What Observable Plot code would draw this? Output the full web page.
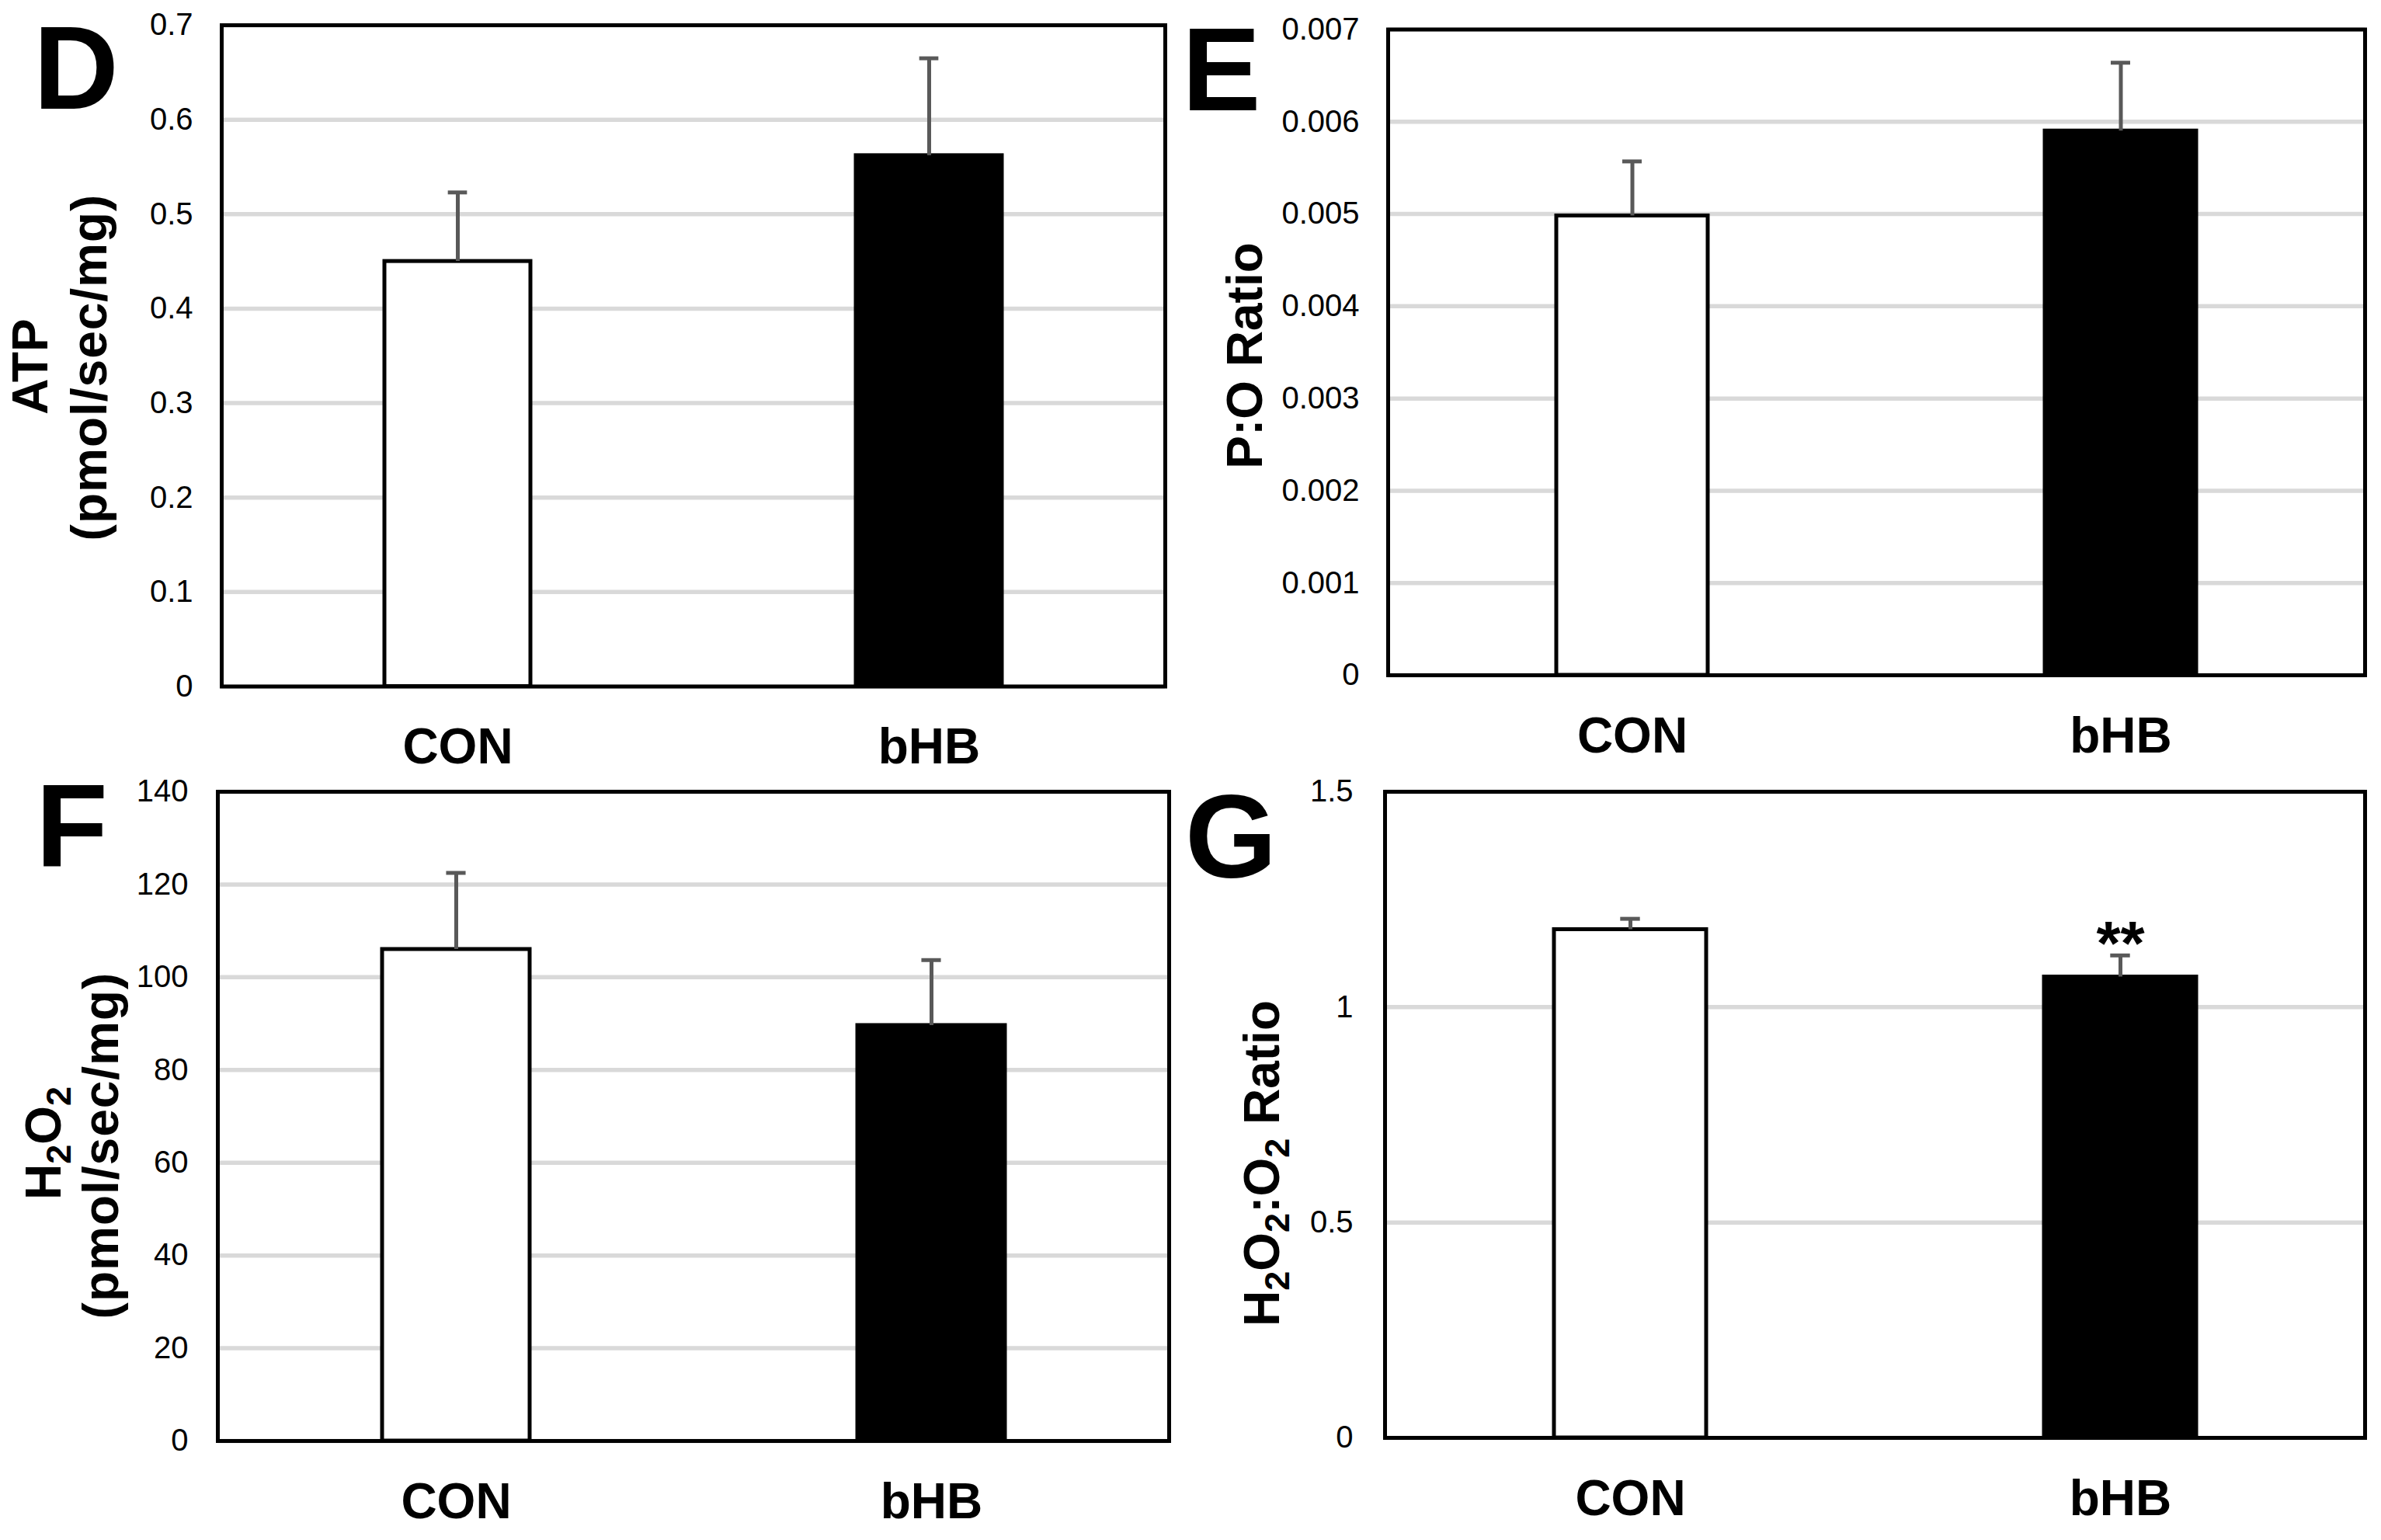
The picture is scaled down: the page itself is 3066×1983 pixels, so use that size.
<!DOCTYPE html>
<html><head><meta charset="utf-8">
<script src="https://cdn.jsdelivr.net/npm/d3@7"></script>
<script src="https://cdn.jsdelivr.net/npm/@observablehq/plot@0.6"></script>
<style>
html,body{margin:0;padding:0;background:#fff;}
#page{position:relative;width:3066px;height:1983px;overflow:hidden;background:#fff;font-family:"Liberation Sans",Arial,Helvetica,sans-serif;}
.panel{position:absolute;}
#overlay{position:absolute;left:0;top:0;pointer-events:none;}
</style></head><body><div id="page"></div>
<script>
// ---- data ----
const groups = ["CON", "bHB"];

// Panel D: ATP (pmol/sec/mg)
const atpMean = [0.45, 0.562];
const atpErr = [0.073, 0.103];
const atpTicks = [0, 0.1, 0.2, 0.3, 0.4, 0.5, 0.6, 0.7];

// Panel E: P:O Ratio
const poMean = [0.00498, 0.0059];
const poErr = [0.00059, 0.00074];
const poTicks = [0, 0.001, 0.002, 0.003, 0.004, 0.005, 0.006, 0.007];

// Panel F: H2O2 (pmol/sec/mg)
const h2o2Mean = [106, 89.6];
const h2o2Err = [16.5, 14.1];
const h2o2Ticks = [0, 20, 40, 60, 80, 100, 120, 140];

// Panel G: H2O2:O2 Ratio
const ratioMean = [1.18, 1.07];
const ratioErr = [0.025, 0.05];
const ratioTicks = [0, 0.5, 1, 1.5];
const ratioSig = ["", "**"];

const FONT = '"Liberation Sans", Arial, Helvetica, sans-serif';
const page = document.getElementById("page");

function panel(cfg) {
  const {left, top, w, h, m, means, errs, ticks, sig, tickPadding} = cfg;
  const data = groups.map((g, i) => ({
    group: g, mean: means[i], upper: means[i] + errs[i], sig: sig ? sig[i] : ""
  }));
  const pi = 0.69, po = 0.345;
  const plotW = w - m.left - m.right;
  const step = plotW / (groups.length - pi + 2 * po);
  const bw = step * (1 - pi);
  const capW = 25;
  const inset = (bw - capW) / 2;
  const chart = Plot.plot({
    width: w, height: h,
    marginLeft: m.left, marginRight: m.right, marginTop: m.top, marginBottom: m.bottom,
    style: {fontFamily: FONT, background: "transparent", color: "black", overflow: "visible"},
    x: {domain: groups, paddingInner: pi, paddingOuter: po, axis: null},
    y: {domain: [ticks[0], ticks[ticks.length - 1]], axis: null},
    color: {domain: groups, range: ["white", "black"]},
    marks: [
      Plot.ruleY(ticks, {stroke: "#d9d9d9", strokeWidth: 5.5}),
      Plot.barY(data, {x: "group", y: "mean", fill: "group", stroke: "black", strokeWidth: 5}),
      Plot.ruleX(data, {x: "group", y1: "mean", y2: "upper", stroke: "#595959", strokeWidth: 5}),
      Plot.tickY(data, {x: "group", y: "upper", stroke: "#595959", strokeWidth: 5, insetLeft: inset, insetRight: inset}),
      Plot.text(data, {x: "group", y: "upper", text: "sig", fontSize: 80, fontWeight: "bold", lineAnchor: "bottom", dy: 12, fill: "black"}),
      Plot.frame({stroke: "black", strokeWidth: 5}),
      Plot.axisY({ticks: ticks, tickSize: 0, tickPadding: tickPadding, fontSize: 40, tickFormat: d => String(d), label: null}),
      Plot.axisX({tickSize: 0, tickPadding: 54, fontSize: 64, fontWeight: "bold", label: null})
    ]
  });
  const div = document.createElement("div");
  div.className = "panel";
  div.style.left = left + "px";
  div.style.top = top + "px";
  div.appendChild(chart);
  page.appendChild(div);
}

panel({left: 0, top: 0, w: 1530, h: 1000, m: {left: 285, right: 30, top: 32, bottom: 116.5},
  means: atpMean, errs: atpErr, ticks: atpTicks, tickPadding: 37});
panel({left: 1530, top: 0, w: 1536, h: 1000, m: {left: 257, right: 21, top: 37.5, bottom: 131},
  means: poMean, errs: poErr, ticks: poTicks, tickPadding: 37});
panel({left: 0, top: 1000, w: 1530, h: 983, m: {left: 280, right: 25, top: 19, bottom: 128},
  means: h2o2Mean, errs: h2o2Err, ticks: h2o2Ticks, tickPadding: 38});
panel({left: 1530, top: 1000, w: 1536, h: 983, m: {left: 253, right: 21, top: 19, bottom: 132},
  means: ratioMean, errs: ratioErr, ticks: ratioTicks, sig: ratioSig, tickPadding: 41});

// ---- overlay text: panel letters and y-axis titles ----
const overlay = d3.select("#page").append("svg")
  .attr("id", "overlay").attr("width", 3066).attr("height", 1983)
  .style("font-family", FONT);

function letter(s, x, y) {
  overlay.append("text").attr("x", x).attr("y", y)
    .attr("font-size", 152).attr("font-weight", "bold").attr("fill", "black").text(s);
}
letter("D", 43, 140);
letter("E", 1522, 142);
letter("F", 46, 1115);
letter("G", 1526, 1130);

function vlabel(x, y, parts, spacing) {
  const t = overlay.append("text")
    .attr("transform", `translate(${x},${y}) rotate(-90)`)
    .attr("text-anchor", "middle").attr("font-size", 64).attr("font-weight", "bold")
    .attr("fill", "black").attr("letter-spacing", spacing || 0);
  let inSub = false;
  parts.forEach(([s, sub]) => {
    const ts = t.append("tspan").text(s);
    if (sub && !inSub) { ts.attr("font-size", 45).attr("dy", 13); inSub = true; }
    else if (sub) { ts.attr("font-size", 45); }
    else if (inSub) { ts.attr("dy", -13); inSub = false; }
  });
}
vlabel(61, 472, [["ATP", false]]);
vlabel(137, 473, [["(pmol/sec/mg)", false]], 1);
vlabel(1625, 458, [["P:O Ratio", false]]);
vlabel(78, 1472, [["H", false], ["2", true], ["O", false], ["2", true]]);
vlabel(152, 1475, [["(pmol/sec/mg)", false]], 1);
vlabel(1647, 1498, [["H", false], ["2", true], ["O", false], ["2", true], [":O", false], ["2", true], [" Ratio", false]]);
</script>
</body></html>
